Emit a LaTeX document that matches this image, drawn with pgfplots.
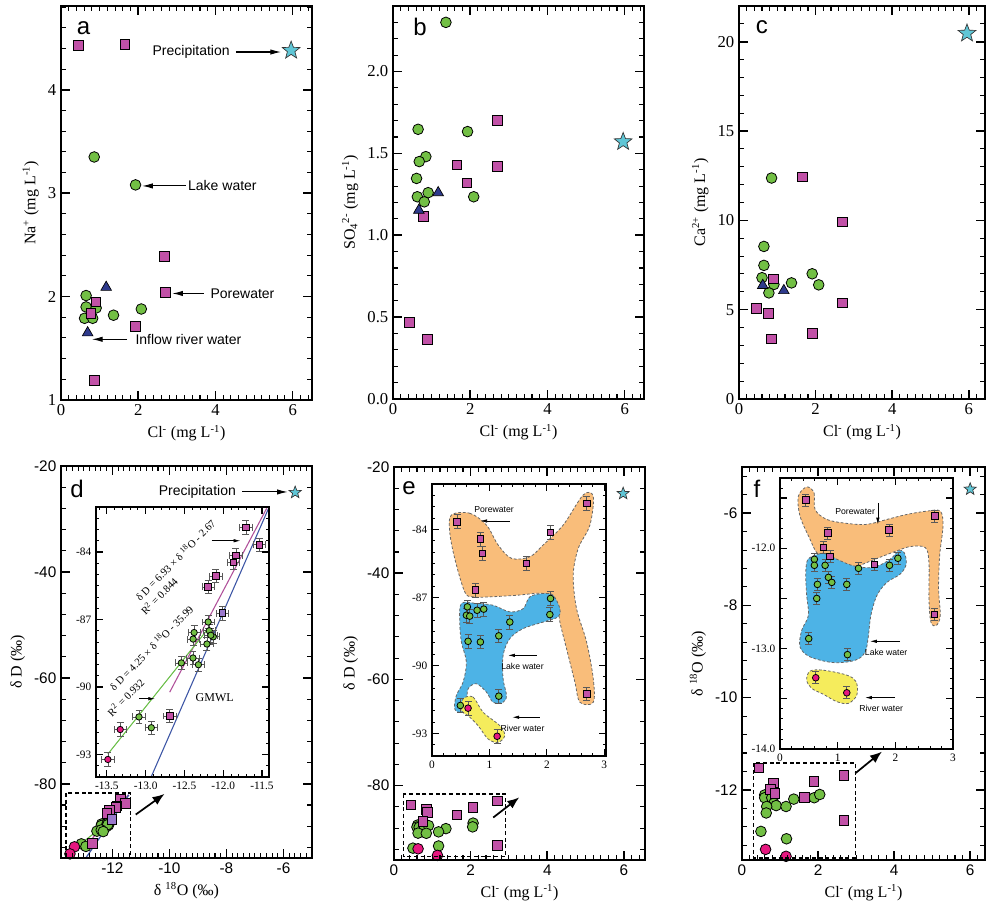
\documentclass[border=0pt]{standalone}
\usepackage{fontspec}
\setmainfont{Liberation Serif}
\newfontfamily\sans{Liberation Sans}
\usepackage{pgfplots}
\usepackage{pgfplotstable}
\pgfplotsset{compat=1.18}
\usetikzlibrary{arrows.meta}

\definecolor{lakeg}{HTML}{72BF44}
\definecolor{porem}{HTML}{C151A7}
\definecolor{trib}{HTML}{2E3A8C}
\definecolor{starc}{HTML}{5FC6D6}
\definecolor{riverp}{HTML}{E6177F}
\definecolor{purp}{HTML}{9A78CC}
\definecolor{regor}{HTML}{F9BD7A}
\definecolor{regbl}{HTML}{4DB3E6}
\definecolor{regye}{HTML}{F5EC5C}
\definecolor{linpk}{HTML}{B0509A}
\definecolor{lingr}{HTML}{6CBF4A}
\definecolor{linbl}{HTML}{3C55A5}

\pgfdeclareplotmark{fstar}{%
  \pgfpathmoveto{\pgfpointpolar{90}{\pgfplotmarksize}}%
  \pgfpathlineto{\pgfpointpolar{126}{0.42\pgfplotmarksize}}%
  \pgfpathlineto{\pgfpointpolar{162}{\pgfplotmarksize}}%
  \pgfpathlineto{\pgfpointpolar{198}{0.42\pgfplotmarksize}}%
  \pgfpathlineto{\pgfpointpolar{234}{\pgfplotmarksize}}%
  \pgfpathlineto{\pgfpointpolar{270}{0.42\pgfplotmarksize}}%
  \pgfpathlineto{\pgfpointpolar{306}{\pgfplotmarksize}}%
  \pgfpathlineto{\pgfpointpolar{342}{0.42\pgfplotmarksize}}%
  \pgfpathlineto{\pgfpointpolar{18}{\pgfplotmarksize}}%
  \pgfpathlineto{\pgfpointpolar{54}{0.42\pgfplotmarksize}}%
  \pgfpathclose
  \pgfusepathqfillstroke
}

\tikzset{
  ann/.style={font=\sans\fontsize{10.5}{12}\selectfont},
  sann/.style={font=\sans\fontsize{6.5}{7}\selectfont},
  arr/.style={-{Latex[length=8pt,width=4pt]}, line width=0.8pt},
  sarr/.style={-{Latex[length=5pt,width=2.6pt]}, line width=0.5pt},
  bigarr/.style={-{Latex[length=9pt,width=7pt]}, line width=1.3pt},
  letter/.style={font=\sans\fontsize{18}{18}\selectfont}
}

% inward tick marks, all endpoints given as plain axis values
% \xtk{x list}{bottom}{bottom end}{top}{top end}{width}
\newcommand\xtk[6]{\pgfplotsinvokeforeach{#1}{\draw[black, line width=#6] (axis cs:##1,#2) -- (axis cs:##1,#3) (axis cs:##1,#4) -- (axis cs:##1,#5);}}
% \ytk{y list}{left}{left end}{right}{right end}{width}
\newcommand\ytk[6]{\pgfplotsinvokeforeach{#1}{\draw[black, line width=#6] (axis cs:#2,##1) -- (axis cs:#3,##1) (axis cs:#4,##1) -- (axis cs:#5,##1);}}
\newcommand\frm[1]{\draw[black, line width=#1] (rel axis cs:0,0) rectangle (rel axis cs:1,1);}

\pgfplotsset{
  panel/.style={scale only axis, anchor=south west, clip mode=individual,
    major tick length=0pt, minor tick length=0pt,
    /pgf/number format/assume math mode=true,
    label style={font=\fontsize{12}{14}\selectfont}},
  toprow/.style={panel, ticklabel style={font=\fontsize{12.5}{13}\selectfont}},
  botrow/.style={panel, ticklabel style={font=\sans\fontsize{11.5}{13}\selectfont}},
  inset/.style={scale only axis, anchor=south west, clip mode=individual,
    axis background/.style={fill=white},
    major tick length=0pt, minor tick length=0pt,
    /pgf/number format/assume math mode=true,
    ticklabel style={font=\fontsize{8.5}{9}\selectfont}},
  lake/.style={only marks, mark=*, mark size=#1, mark options={fill=lakeg, draw=black, line width=0.6pt}},
  lake/.default=4pt,
  pore/.style={only marks, mark=square*, mark size=#1, mark options={fill=porem, draw=black, line width=0.6pt}},
  pore/.default=3.6pt,
  purpl/.style={only marks, mark=square*, mark size=#1, mark options={fill=purp, draw=black, line width=0.6pt}},
  purpl/.default=3.6pt,
  river/.style={only marks, mark=*, mark size=#1, mark options={fill=riverp, draw=black, line width=0.6pt}},
  river/.default=4pt,
  tri/.style={only marks, mark=triangle*, mark size=4.6pt, mark options={fill=trib, draw=black, line width=0.5pt}},
  prec/.style={only marks, mark=fstar, mark size=#1, mark options={fill=starc, draw=black!80, line width=0.5pt}},
  prec/.default=7pt,
  ey/.style={/pgfplots/error bars/y dir=both, /pgfplots/error bars/y fixed=#1,
    /pgfplots/error bars/error bar style={line width=0.5pt, black!65},
    /pgfplots/error bars/error mark options={rotate=90, mark size=2.6pt, line width=0.5pt, black!65}},
  ex/.style={/pgfplots/error bars/x dir=both, /pgfplots/error bars/x fixed=#1},
  region/.style={smooth cycle, tension=0.55, fill=#1, draw=black!60, line width=0.6pt, dash pattern=on 2pt off 1.5pt}
}

% isotope data: delta18O, deltaD
\pgfplotstableread{
x y
-11.707 -82.90
-11.535 -83.68
-11.836 -84.15
-11.870 -84.46
-12.095 -85.07
-12.194 -85.55
-12.690 -91.29
}\dPore
\pgfplotstableread{
x y
-12.009 -86.72
}\dPurple
\pgfplotstableread{
x y
-12.194 -87.11
-12.375 -87.58
-12.388 -87.87
-12.180 -87.50
-12.129 -87.77
-12.210 -88.09
-12.160 -87.70
-12.540 -88.93
-12.390 -88.71
-12.320 -89.01
-13.086 -91.33
-12.927 -91.81
}\dLake
\pgfplotstableread{
x y
-13.328 -91.89
-13.487 -93.22
}\dRiver

% Cl, deltaD
\pgfplotstableread{
x y
0.436 -83.66
0.843 -84.43
0.878 -85.06
0.756 -86.68
1.645 -85.50
2.064 -84.13
2.692 -82.85
2.692 -91.26
}\ePore
\pgfplotstableread{
x y
0.616 -87.42
0.599 -87.79
0.657 -87.83
0.785 -87.57
0.901 -87.52
1.355 -88.09
1.163 -88.70
0.628 -88.94
0.843 -88.97
2.064 -87.05
2.052 -87.76
1.163 -91.36
0.494 -91.77
}\eLake
\pgfplotstableread{
x y
0.628 -91.89
1.134 -93.13
}\eRiver

% Cl, delta18O
\pgfplotstableread{
x y
0.446 -11.52
0.828 -11.85
0.753 -11.99
0.869 -12.08
1.639 -12.16
1.894 -11.82
2.681 -11.68
2.675 -12.66
}\fPore
\pgfplotstableread{
x y
0.596 -12.11
0.596 -12.17
0.782 -12.17
0.840 -12.29
0.898 -12.34
0.649 -12.36
1.158 -12.36
1.361 -12.20
1.899 -12.17
2.044 -12.10
0.637 -12.50
0.498 -12.90
1.170 -13.06
}\fLake
\pgfplotstableread{
x y
0.620 -13.29
1.158 -13.44
}\fRiver

\begin{document}
\begin{tikzpicture}
\useasboundingbox (0,0) rectangle (739.5pt,681pt);

% ---------- a ----------
\begin{axis}[toprow, at={(45.75pt,381pt)}, width=188.25pt, height=295.5pt,
  xmin=0, xmax=6.5, ymin=1, ymax=4.81,
  xtick={0,2,4,6}, ytick={1,2,3,4},
  xlabel={Cl\textsuperscript{-} (mg L\textsuperscript{-1})},
  ylabel={Na\textsuperscript{+} (mg L\textsuperscript{-1})}]
\addplot[lake] coordinates {(0.86,3.35) (1.93,3.08) (0.65,2.01) (0.65,1.90) (0.91,1.89) (0.61,1.79) (0.82,1.79) (1.36,1.82) (2.08,1.88)};
\addplot[pore] coordinates {(0.45,4.43) (1.65,4.44) (2.68,2.39) (2.70,2.04) (0.90,1.95) (0.77,1.84) (1.93,1.71) (0.87,1.19)};
\addplot[tri] coordinates {(1.17,2.09) (0.69,1.65)};
\addplot[prec] coordinates {(5.96,4.38)};
\xtk{0.2,0.4,...,6.4}{1}{1.0451}{4.81}{4.7649}{0.8pt}
\xtk{2,4,6}{1}{1.0903}{4.81}{4.7197}{1.2pt}
\ytk{1.2,1.4,...,4.8}{0}{0.1208}{6.5}{6.3792}{0.8pt}
\ytk{2,3,4}{0}{0.2417}{6.5}{6.2583}{1.2pt}
\frm{1.7pt}
\node[letter] at (rel axis cs:0.09,0.945) {a};
\node[ann] at (axis cs:3.37,4.365) {Precipitation};
\draw[arr] (axis cs:4.53,4.365) -- (axis cs:5.70,4.365);
\node[ann] at (axis cs:4.18,3.07) {Lake water};
\draw[arr] (axis cs:3.23,3.07) -- (axis cs:2.10,3.07);
\node[ann] at (axis cs:4.70,2.03) {Porewater};
\draw[arr] (axis cs:3.70,2.03) -- (axis cs:2.88,2.03);
\node[ann] at (axis cs:3.30,1.587) {Inflow river water};
\draw[arr] (axis cs:1.71,1.587) -- (axis cs:0.80,1.587);
\end{axis}

% ---------- b ----------
\begin{axis}[toprow, at={(294.75pt,381.75pt)}, width=188.25pt, height=294.75pt,
  xmin=0, xmax=6.5, ymin=0, ymax=2.4,
  xtick={0,2,4,6}, ytick={0,0.5,1,1.5,2},
  yticklabel style={/pgf/number format/fixed, /pgf/number format/fixed zerofill, /pgf/number format/precision=1},
  xlabel={Cl\textsuperscript{-} (mg L\textsuperscript{-1})},
  ylabel={SO\textsubscript{4}\textsuperscript{2-} (mg L\textsuperscript{-1})}]
\addplot[lake] coordinates {(1.37,2.30) (0.65,1.647) (1.93,1.633) (0.85,1.48) (0.68,1.45) (0.61,1.347) (0.63,1.235) (0.91,1.26) (0.81,1.204) (2.09,1.235)};
\addplot[pore] coordinates {(2.71,1.70) (1.65,1.43) (2.71,1.42) (1.91,1.32) (0.78,1.116) (0.43,0.469) (0.89,0.363)};
\addplot[tri] coordinates {(1.17,1.26) (0.67,1.153)};
\addplot[prec] coordinates {(5.96,1.571)};
\xtk{0.2,0.4,...,6.4}{0}{0.0285}{2.4}{2.3715}{0.8pt}
\xtk{2,4,6}{0}{0.057}{2.4}{2.343}{1.2pt}
\ytk{0.1,0.2,...,2.35}{0}{0.1208}{6.5}{6.3792}{0.8pt}
\ytk{0.5,1,1.5,2}{0}{0.2417}{6.5}{6.2583}{1.2pt}
\frm{1.7pt}
\node[letter] at (rel axis cs:0.108,0.947) {b};
\end{axis}

% ---------- c ----------
\begin{axis}[toprow, at={(554.25pt,381.75pt)}, width=184.5pt, height=294.75pt,
  xmin=0, xmax=6.42, ymin=0, ymax=22,
  xtick={0,2,4,6}, ytick={0,5,10,15,20},
  xlabel={Cl\textsuperscript{-} (mg L\textsuperscript{-1})},
  ylabel={Ca\textsuperscript{2+} (mg L\textsuperscript{-1})}]
\addplot[lake] coordinates {(0.85,12.37) (0.65,8.54) (0.65,7.48) (0.60,6.79) (1.91,7.01) (1.37,6.50) (2.08,6.39) (0.91,6.41) (0.78,5.94)};
\addplot[pore] coordinates {(1.65,12.43) (2.70,9.91) (0.89,6.73) (2.70,5.38) (0.45,5.08) (0.76,4.80) (1.91,3.68) (0.85,3.36)};
\addplot[tri] coordinates {(0.62,6.36) (1.17,6.07)};
\addplot[prec] coordinates {(5.95,20.47)};
\xtk{0.2,0.4,...,6.4}{0}{0.2612}{22}{21.7388}{0.8pt}
\xtk{2,4,6}{0}{0.5224}{22}{21.4776}{1.2pt}
\ytk{1,2,...,21}{0}{0.1218}{6.42}{6.2982}{0.8pt}
\ytk{5,10,15,20}{0}{0.2436}{6.42}{6.1764}{1.2pt}
\frm{1.7pt}
\node[letter] at (rel axis cs:0.093,0.947) {c};
\end{axis}

% ---------- d ----------
\begin{axis}[botrow, at={(45.75pt,37.5pt)}, width=188.25pt, height=294pt,
  xmin=-13.8, xmax=-5, ymin=-94, ymax=-20,
  xtick={-12,-10,-8,-6}, ytick={-80,-60,-40,-20},
  xlabel={δ \textsuperscript{18}O (‰)}, ylabel={δ D (‰)}]
\addplot[linpk, line width=0.9pt] coordinates {(-12.69,-90.23) (-11.44,-82.06)};
\addplot[lingr, line width=0.9pt] coordinates {(-13.487,-92.98) (-12.216,-87.5)};
\addplot[linbl, line width=0.9pt] coordinates {(-12.927,-93.98) (-11.418,-82.08)};
\addplot[lake, ey=0.4] table {\dLake};
\addplot[pore, ey=0.4] table {\dPore};
\addplot[purpl, ey=0.4] table {\dPurple};
\addplot[river] table {\dRiver};
\addplot[prec=4.8pt] coordinates {(-5.59,-25.0)};
\xtk{-13.6,-13.4,...,-5.2}{-94}{-93.119}{-20}{-20.881}{0.8pt}
\xtk{-12,-10,-8,-6}{-94}{-92.238}{-20}{-21.762}{1.2pt}
\ytk{-92,-88,...,-24}{-13.8}{-13.6364}{-5}{-5.1636}{0.8pt}
\ytk{-80,-60,-40}{-13.8}{-13.4728}{-5}{-5.3272}{1.2pt}
\frm{1.7pt}
\draw[black, line width=1pt, dash pattern=on 3pt off 2pt] (axis cs:-13.63,-81.7) rectangle (axis cs:-11.36,-94);
\draw[bigarr] (axis cs:-11.18,-85.8) -- (axis cs:-10.17,-81.9);
\node[letter] at (rel axis cs:0.064,0.941) {d};
\node[ann] at (axis cs:-9.02,-24.9) {Precipitation};
\draw[arr] (axis cs:-7.45,-24.9) -- (axis cs:-5.85,-24.9);
\end{axis}

\begin{axis}[inset, at={(72pt,98.25pt)}, width=129.75pt, height=202.5pt,
  xmin=-13.64, xmax=-11.41, ymin=-94, ymax=-82,
  xtick={-13.5,-13,-12.5,-12,-11.5}, ytick={-93,-90,-87,-84},
  xticklabel style={/pgf/number format/fixed, /pgf/number format/fixed zerofill, /pgf/number format/precision=1}]
\addplot[linpk, line width=0.8pt] coordinates {(-12.69,-90.23) (-11.44,-82.06)};
\addplot[lingr, line width=0.8pt] coordinates {(-13.487,-92.98) (-12.216,-87.5)};
\addplot[linbl, line width=0.8pt] coordinates {(-12.927,-93.98) (-11.418,-82.08)};
\addplot[lake=2.4pt, ey=0.3, ex=0.08] table {\dLake};
\addplot[pore=2.5pt, ey=0.3, ex=0.08] table {\dPore};
\addplot[purpl=2.5pt, ey=0.3, ex=0.08] table {\dPurple};
\addplot[river=2.4pt, ey=0.3, ex=0.08] table {\dRiver};
\xtk{-13.6,-13.5,...,-11.45}{-94}{-93.8519}{-82}{-82.1481}{0.6pt}
\xtk{-13.5,-13,-12.5,-12,-11.5}{-94}{-93.7037}{-82}{-82.2963}{0.9pt}
\ytk{-93.5,-93,...,-82.5}{-13.64}{-13.597}{-11.41}{-11.453}{0.6pt}
\ytk{-93,-90,-87,-84}{-13.64}{-13.5541}{-11.41}{-11.4959}{0.9pt}
\frm{1.1pt}
\node[rotate=45.5, font=\fontsize{8}{9}\selectfont] at (axis cs:-12.62,-84.35) {δ D = 6.93 × δ \textsuperscript{18}O - 2.67};
\node[rotate=45.5, font=\fontsize{8}{9}\selectfont] at (axis cs:-12.83,-85.95) {R\textsuperscript{2} = 0.844};
\node[rotate=45.5, font=\fontsize{8}{9}\selectfont] at (axis cs:-12.93,-88.25) {δ D = 4.25 × δ \textsuperscript{18}O - 35.99};
\node[rotate=45.5, font=\fontsize{8}{9}\selectfont] at (axis cs:-13.26,-90.45) {R\textsuperscript{2} = 0.932};
\node[font=\fontsize{9}{10}\selectfont] at (axis cs:-12.11,-90.45) {GMWL};
\draw[sarr] (axis cs:-12.15,-83.5) -- (axis cs:-11.78,-83.5);
\draw[sarr] (axis cs:-13.08,-90.52) -- (axis cs:-12.88,-90.52);
\end{axis}

% ---------- e ----------
\begin{axis}[botrow, at={(295.5pt,36pt)}, width=188.25pt, height=294.75pt,
  xmin=0, xmax=6.55, ymin=-94, ymax=-20,
  xtick={0,2,4,6}, ytick={-80,-60,-40,-20},
  xlabel={Cl\textsuperscript{-} (mg L\textsuperscript{-1})}, ylabel={δ D (‰)}]
\addplot[lake, ey=0.3] table {\eLake};
\addplot[pore, ey=0.3] table {\ePore};
\addplot[river] table {\eRiver};
\addplot[prec=4.8pt] coordinates {(5.98,-25.0)};
\xtk{0.2,0.4,...,6.4}{-94}{-93.121}{-20}{-20.879}{0.8pt}
\xtk{2,4,6}{-94}{-92.243}{-20}{-21.757}{1.2pt}
\ytk{-92,-88,...,-24}{0}{0.1218}{6.55}{6.4282}{0.8pt}
\ytk{-80,-60,-40}{0}{0.2436}{6.55}{6.3064}{1.2pt}
\frm{1.7pt}
\draw[black, line width=1pt, dash pattern=on 3pt off 2pt] (axis cs:0.245,-81.6) rectangle (axis cs:2.91,-93.4);
\draw[bigarr] (axis cs:2.59,-86.0) -- (axis cs:3.27,-82.2);
\node[letter] at (rel axis cs:0.06,0.946) {e};
\end{axis}

\begin{axis}[inset, at={(324pt,114pt)}, width=130.5pt, height=204pt,
  xmin=0, xmax=3.03, ymin=-94, ymax=-82,
  xtick={0,1,2,3}, ytick={-93,-90,-87,-84}]
\addplot[region=regor] coordinates {(0.337,-83.37) (0.657,-83.29) (0.948,-83.81) (1.151,-84.69) (1.384,-85.28) (1.703,-85.21) (1.936,-84.69) (2.285,-83.81) (2.634,-82.48) (2.808,-82.55) (2.750,-83.81) (2.547,-84.84) (2.459,-86.02) (2.517,-87.50) (2.692,-88.97) (2.808,-90.59) (2.808,-91.63) (2.576,-91.63) (2.488,-90.74) (2.343,-89.27) (2.227,-88.09) (2.169,-87.20) (1.936,-86.83) (1.471,-86.91) (1.006,-86.98) (0.715,-86.98) (0.570,-86.76) (0.395,-85.28) (0.308,-84.10)};
\addplot[region=regbl] coordinates {(0.512,-87.27) (0.773,-87.27) (1.064,-87.35) (1.355,-87.64) (1.587,-87.50) (1.703,-86.98) (1.936,-86.83) (2.110,-86.91) (2.227,-87.50) (2.198,-87.86) (1.936,-88.09) (1.587,-88.38) (1.355,-88.82) (1.238,-89.56) (1.238,-90.59) (1.297,-91.33) (1.238,-91.63) (1.064,-91.63) (0.948,-91.18) (0.773,-90.81) (0.628,-91.04) (0.599,-91.63) (0.512,-92.07) (0.395,-91.92) (0.424,-91.33) (0.541,-90.74) (0.599,-89.86) (0.512,-88.97) (0.483,-88.09)};
\addplot[region=regye] coordinates {(0.541,-91.48) (0.715,-91.40) (0.890,-92.07) (1.180,-92.66) (1.267,-93.10) (1.151,-93.40) (0.977,-93.25) (0.802,-92.66) (0.628,-92.22) (0.512,-92.0)};
\addplot[lake=2.5pt, ey=0.3] table {\eLake};
\addplot[pore=2.5pt, ey=0.3] table {\ePore};
\addplot[river=2.5pt, ey=0.3] table {\eRiver};
\xtk{0.2,0.4,...,2.9}{-94}{-93.8529}{-82}{-82.1471}{0.6pt}
\xtk{1,2,3}{-94}{-93.7059}{-82}{-82.2941}{0.9pt}
\ytk{-93.5,-93,...,-82.5}{0}{0.058}{3.03}{2.972}{0.6pt}
\ytk{-93,-90,-87,-84}{0}{0.1161}{3.03}{2.9139}{0.9pt}
\frm{1.1pt}
\node[sann] at (axis cs:1.081,-83.12) {Porewater};
\draw[sarr] (axis cs:1.355,-83.63) -- (axis cs:0.843,-83.63);
\node[sann] at (axis cs:1.576,-90.03) {Lake water};
\draw[sarr] (axis cs:1.820,-89.56) -- (axis cs:1.326,-89.56);
\node[sann] at (axis cs:1.576,-92.78) {River water};
\draw[sarr] (axis cs:1.878,-92.29) -- (axis cs:1.401,-92.29);
\end{axis}

% ---------- f ----------
\begin{axis}[botrow, at={(556.5pt,36pt)}, width=182.25pt, height=294.75pt,
  xmin=0, xmax=6.39, ymin=-13.52, ymax=-5,
  xtick={0,2,4,6}, ytick={-12,-10,-8,-6},
  xlabel={Cl\textsuperscript{-} (mg L\textsuperscript{-1})}, ylabel={δ \textsuperscript{18}O (‰)}]
\addplot[lake, ey=0.06] table {\fLake};
\addplot[pore, ey=0.06] table {\fPore};
\addplot[river] table {\fRiver};
\addplot[prec=4.8pt] coordinates {(6.0,-5.48)};
\xtk{0.2,0.4,...,6.3}{-13.52}{-13.4188}{-5}{-5.1012}{0.8pt}
\xtk{2,4,6}{-13.52}{-13.3177}{-5}{-5.2023}{1.2pt}
\ytk{-13.2,-12.8,...,-5.2}{0}{0.1227}{6.39}{6.2673}{0.8pt}
\ytk{-12,-10,-8,-6}{0}{0.2454}{6.39}{6.1446}{1.2pt}
\frm{1.7pt}
\draw[black, line width=1pt, dash pattern=on 3pt off 2pt] (axis cs:0.306,-11.42) rectangle (axis cs:2.977,-13.48);
\draw[bigarr] (axis cs:2.98,-11.64) -- (axis cs:3.68,-11.17);
\node[letter] at (rel axis cs:0.062,0.944) {f};
\end{axis}

\begin{axis}[inset, at={(585pt,119.25pt)}, width=129.75pt, height=203.25pt,
  xmin=0, xmax=3, ymin=-14, ymax=-11.3,
  xtick={0,1,2,3}, ytick={-14,-13.5,-13,-12.5,-12,-11.5}, yticklabels={-14.0,,-13.0,,-12.0,}]
\addplot[region=regor] coordinates {(0.463,-11.389) (0.591,-11.449) (0.608,-11.614) (0.811,-11.713) (1.158,-11.752) (1.505,-11.762) (1.853,-11.713) (2.200,-11.663) (2.548,-11.630) (2.779,-11.630) (2.826,-11.779) (2.768,-12.076) (2.750,-12.406) (2.779,-12.670) (2.710,-12.769) (2.617,-12.736) (2.583,-12.505) (2.583,-12.142) (2.519,-11.993) (2.258,-11.983) (2.027,-12.026) (1.795,-12.076) (1.505,-12.142) (1.274,-12.191) (1.042,-12.158) (0.811,-12.109) (0.637,-12.043) (0.521,-11.911) (0.347,-11.680) (0.318,-11.482)};
\addplot[region=regbl] coordinates {(0.521,-12.092) (0.753,-12.050) (0.984,-12.109) (1.274,-12.175) (1.621,-12.191) (1.911,-12.109) (2.056,-12.026) (2.154,-12.043) (2.189,-12.158) (2.085,-12.257) (1.853,-12.340) (1.679,-12.472) (1.575,-12.670) (1.534,-12.868) (1.477,-13.033) (1.303,-13.116) (0.926,-13.139) (0.521,-13.082) (0.347,-12.983) (0.376,-12.818) (0.492,-12.670) (0.463,-12.472) (0.446,-12.274) (0.463,-12.142)};
\addplot[region=regye] coordinates {(0.521,-13.224) (0.753,-13.215) (1.158,-13.264) (1.320,-13.330) (1.332,-13.462) (1.187,-13.545) (0.984,-13.528) (0.753,-13.455) (0.550,-13.396) (0.463,-13.314)};
\addplot[lake=2.5pt, ey=0.06] table {\fLake};
\addplot[pore=2.5pt, ey=0.06] table {\fPore};
\addplot[river=2.5pt, ey=0.06] table {\fRiver};
\xtk{0.2,0.4,...,2.9}{-14}{-13.9668}{-11.3}{-11.3332}{0.6pt}
\xtk{1,2}{-14}{-13.9336}{-11.3}{-11.3664}{0.9pt}
\ytk{-13.9,-13.8,...,-11.35}{0}{0.0578}{3}{2.9422}{0.6pt}
\ytk{-13.5,-13,-12.5,-12,-11.5}{0}{0.1156}{3}{2.8844}{0.9pt}
\frm{1.1pt}
\node[sann] at (axis cs:1.303,-11.637) {Porewater};
\draw[sarr] (axis cs:1.697,-11.548) -- (axis cs:1.697,-11.762);
\node[sann] at (axis cs:1.841,-13.04) {Lake water};
\draw[sarr] (axis cs:2.085,-12.927) -- (axis cs:1.563,-12.927);
\node[sann] at (axis cs:1.755,-13.60) {River water};
\draw[sarr] (axis cs:1.998,-13.488) -- (axis cs:1.477,-13.488);
\end{axis}
\end{tikzpicture}
\end{document}
